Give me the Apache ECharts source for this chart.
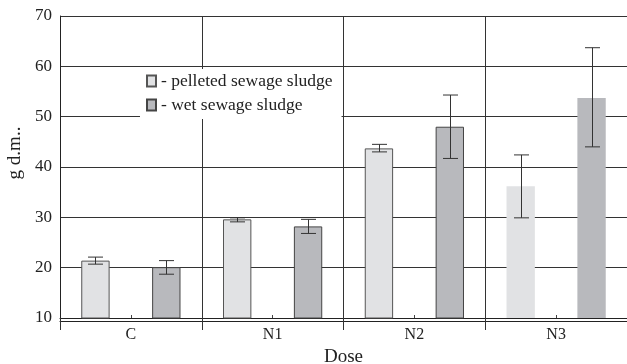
<!DOCTYPE html>
<html><head><meta charset="utf-8">
<script src="https://cdn.jsdelivr.net/npm/echarts@6/dist/echarts.min.js"></script>
<style>html,body{margin:0;padding:0;background:#fff}#c{width:627px;height:364px}</style>
</head><body><div id="c"></div>
<script>
const categories = ['C', 'N1', 'N2', 'N3'];
const pelleted = [21.4, 29.6, 43.7, 36.2];
const pelletedLow = [20.7, 29.1, 43.0, 29.9];
const pelletedHigh = [22.1, 29.9, 44.5, 42.4];
const wet = [20.1, 28.2, 48.0, 53.7];
const wetLow = [18.7, 26.8, 41.7, 44.0];
const wetHigh = [21.4, 29.6, 54.3, 63.7];
const yTicks = [10, 20, 30, 40, 50, 60, 70];
const noBorder = ['N3'];

const FONT = 'Liberation Serif';
const chart = echarts.init(document.getElementById('c'));

function barData(vals) {
  return vals.map((v, i) => noBorder.includes(categories[i])
    ? { value: v, itemStyle: { borderWidth: 0 } } : v);
}
function errSeries(low, high, side, color) {
  return {
    type: 'custom', z: 10, silent: true,
    data: categories.map((c, i) => [i, low[i], high[i]]),
    renderItem: function (params, api) {
      const i = api.value(0);
      const lo = api.coord([i, api.value(1)]);
      const hi = api.coord([i, api.value(2)]);
      const band = api.size([1, 0])[0];
      const x = Math.round(lo[0] + side * band * 0.25) + 0.5;
      const hw = 7.5;
      const st = { stroke: color, lineWidth: 1 };
      return { type: 'group', children: [
        { type: 'line', shape: { x1: x, y1: lo[1], x2: x, y2: hi[1] }, style: st },
        { type: 'line', shape: { x1: x - hw, y1: lo[1], x2: x + hw, y2: lo[1] }, style: st },
        { type: 'line', shape: { x1: x - hw, y1: hi[1], x2: x + hw, y2: hi[1] }, style: st }
      ]};
    }
  };
}

chart.setOption({
  animation: false,
  backgroundColor: '#fff',
  textStyle: { fontFamily: FONT },
  grid: { left: 60, right: 0, top: 16, bottom: 46, containLabel: false, outerBoundsMode: 'none' },
  legend: {
    orient: 'vertical', left: 140, top: 69,
    backgroundColor: '#fff', padding: [3, 9, 5, 6],
    icon: 'rect',
    itemWidth: 9, itemHeight: 11, itemGap: 6,
    textStyle: { fontFamily: FONT, fontSize: 17.5, color: '#222' },
    data: ['- pelleted sewage sludge', '- wet sewage sludge']
  },
  xAxis: [{
    type: 'category', data: categories, position: 'bottom',
    name: 'Dose', nameLocation: 'middle', nameGap: 30,
    nameTextStyle: { fontFamily: FONT, fontSize: 19, color: '#222' },
    axisLine: { show: true, lineStyle: { color: '#222', width: 1 } },
    axisTick: { show: true, length: 12, lineStyle: { color: '#333' }, interval: 0 },
    axisLabel: { fontFamily: FONT, fontSize: 16, color: '#222', margin: 9 },
    splitLine: { show: true, lineStyle: { color: '#333', width: 1 } }
  }, {
    type: 'category', data: categories, position: 'bottom', offset: 3,
    axisLine: { show: true, lineStyle: { color: '#222', width: 1 } },
    axisTick: { show: false }, axisLabel: { show: false }, splitLine: { show: false }
  }, {
    type: 'category', data: categories, position: 'bottom',
    axisLine: { show: false },
    axisTick: { show: true, inside: true, alignWithLabel: true, length: 3, lineStyle: { color: '#444' } },
    axisLabel: { show: false }, splitLine: { show: false }
  }],
  yAxis: {
    type: 'value', min: yTicks[0], max: yTicks[yTicks.length - 1], interval: 10,
    name: 'g d.m..', nameLocation: 'middle', nameGap: 35,
    nameTextStyle: { fontFamily: FONT, fontSize: 19, color: '#222', padding: [0, 0, 0, 28] },
    axisLine: { show: true, lineStyle: { color: '#222' } },
    axisTick: { show: false },
    axisLabel: { fontFamily: FONT, fontSize: 17, color: '#222', margin: 8 },
    splitLine: { show: true, lineStyle: { color: '#333', width: 1 } }
  },
  series: [{
    name: '- pelleted sewage sludge', type: 'bar', barWidth: '20%', barGap: '150%',
    itemStyle: { color: '#e1e2e4', borderColor: '#555', borderWidth: 1 },
    data: barData(pelleted)
  }, {
    name: '- wet sewage sludge', type: 'bar', barWidth: '20%', barGap: '150%',
    itemStyle: { color: '#b8b9bd', borderColor: '#444', borderWidth: 1 },
    data: barData(wet)
  },
  errSeries(pelletedLow, pelletedHigh, -1, '#333'),
  errSeries(wetLow, wetHigh, 1, '#333')]
});
</script></body></html>
